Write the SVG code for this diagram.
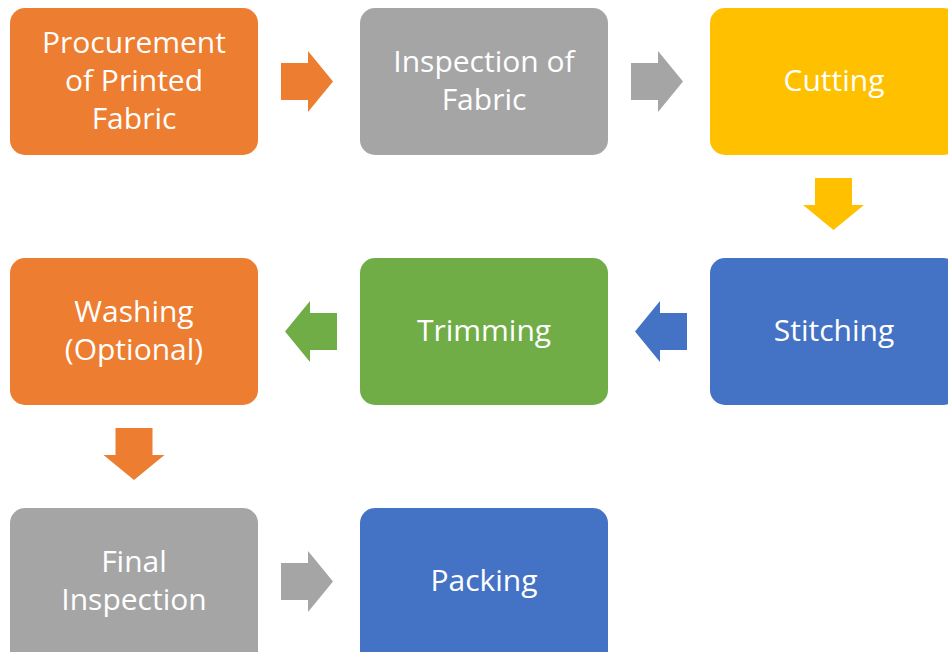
<svg xmlns="http://www.w3.org/2000/svg" width="948" height="652" viewBox="0 0 948 652">
  <style>
    .box { stroke: none; }
    .orange { fill: #ED7D31; }
    .gray { fill: #A5A5A5; }
    .yellow { fill: #FFC000; }
    .blue { fill: #4472C4; }
    .green { fill: #70AD47; }
    .lbl { font-family: "Open Sans", "Liberation Sans", sans-serif; font-size: 30px; fill: #FFFFFF; text-anchor: middle; }
  </style>
  <defs>
    <!-- block arrow pointing right, origin at left/middle -->
    <path id="arrowR" d="M0,-18.5 H27 V-30.5 L52,0 L27,30.5 V18.5 H0 Z"/>
  </defs>
  <rect width="948" height="652" fill="#FFFFFF"/>

  <g id="connectors">
    <use href="#arrowR" class="orange" transform="translate(281,81.5)"/>
    <use href="#arrowR" class="gray" transform="translate(631,81.5)"/>
    <use href="#arrowR" class="yellow" transform="translate(833.5,178) rotate(90)"/>
    <use href="#arrowR" class="blue" transform="translate(687,331.5) rotate(180)"/>
    <use href="#arrowR" class="green" transform="translate(337,331.5) rotate(180)"/>
    <use href="#arrowR" class="orange" transform="translate(134,428) rotate(90)"/>
    <use href="#arrowR" class="gray" transform="translate(281,581.5)"/>
  </g>

  <g id="procurement">
    <rect class="box orange" x="10" y="8" width="248" height="147" rx="15"/>
    <text class="lbl" x="134" y="53">Procurement</text>
    <text class="lbl" x="134" y="91">of Printed</text>
    <text class="lbl" x="134" y="129">Fabric</text>
  </g>
  <g id="inspection-fabric">
    <rect class="box gray" x="360" y="8" width="248" height="147" rx="15"/>
    <text class="lbl" x="484" y="72">Inspection of</text>
    <text class="lbl" x="484" y="110">Fabric</text>
  </g>
  <g id="cutting">
    <rect class="box yellow" x="710" y="8" width="248" height="147" rx="15"/>
    <text class="lbl" x="834" y="91">Cutting</text>
  </g>
  <g id="stitching">
    <rect class="box blue" x="710" y="258" width="248" height="147" rx="15"/>
    <text class="lbl" x="834" y="341">Stitching</text>
  </g>
  <g id="trimming">
    <rect class="box green" x="360" y="258" width="248" height="147" rx="15"/>
    <text class="lbl" x="484" y="341">Trimming</text>
  </g>
  <g id="washing">
    <rect class="box orange" x="10" y="258" width="248" height="147" rx="15"/>
    <text class="lbl" x="134" y="322">Washing</text>
    <text class="lbl" x="134" y="360">(Optional)</text>
  </g>
  <g id="final-inspection">
    <rect class="box gray" x="10" y="508" width="248" height="160" rx="15"/>
    <text class="lbl" x="134" y="572">Final</text>
    <text class="lbl" x="134" y="610">Inspection</text>
  </g>
  <g id="packing">
    <rect class="box blue" x="360" y="508" width="248" height="160" rx="15"/>
    <text class="lbl" x="484" y="591">Packing</text>
  </g>
</svg>
